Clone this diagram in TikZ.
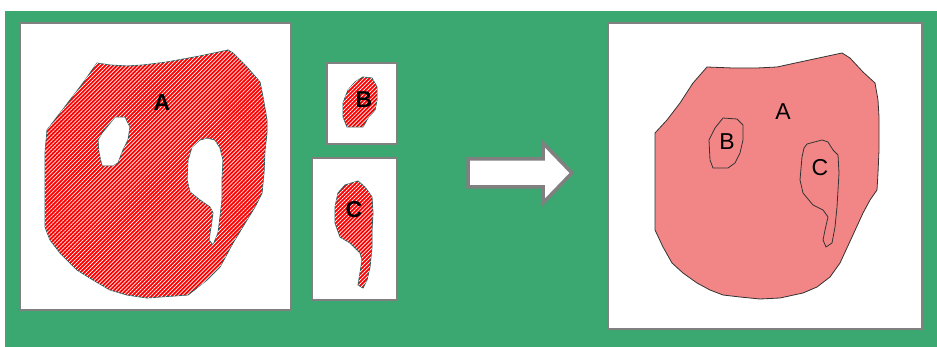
\documentclass[tikz,border=0pt]{standalone}
\usepackage{fontspec}
\setmainfont{Liberation Sans}
\usetikzlibrary{patterns.meta}
\definecolor{bggreen}{RGB}{58,168,112}
\definecolor{boxgray}{RGB}{128,128,128}
\definecolor{pinkfill}{RGB}{242,134,134}
\definecolor{tealedge}{RGB}{40,90,90}
\tikzset{
  panel/.style={draw=boxgray, line width=2.5pt, fill=white},
  stripefill/.style={fill=red, postaction={pattern={Lines[angle=45,distance=2.8pt,line width=0.7pt]}, pattern color=white}},
  leftedge/.style={draw=tealedge, line width=0.8pt},
  rightedge/.style={draw=black!80, line width=0.8pt, fill=pinkfill},
  lbl/.style={font=\fontsize{23}{23}\selectfont, inner sep=0pt},
  lblb/.style={font=\fontsize{23}{23}\selectfont\bfseries, inner sep=0pt},
}
\begin{document}
\begin{tikzpicture}[x=1pt,y=-1pt]
\useasboundingbox (0,0) rectangle (937,347);
\fill[white] (0,0) rectangle (937,347);
\fill[bggreen] (5,11) rectangle (937,347);
% panels
\draw[panel] (20,23) rectangle (291,310);
\draw[panel] (327,63) rectangle (397,144);
\draw[panel] (312,158) rectangle (397,300);
\draw[panel] (608,23) rectangle (922,329);
% left A with holes
\path[stripefill, leftedge, even odd rule]
 (97,63) -- (110,65) -- (127,66) -- (143,65) -- (167,62) -- (200,56) -- (228,50) -- (233,53) -- (247,67) -- (260,82) -- (263,97) -- (267,120) -- (267,133) -- (265,150) -- (264,173) -- (262,193) -- (255,207) -- (247,220) -- (233,243) -- (220,267) -- (207,280) -- (188,295) -- (160,297) -- (147,298) -- (127,295) -- (110,290) -- (93,280) -- (77,270) -- (60,253) -- (50,240) -- (45,227) -- (45,200) -- (45,153) -- (47,130) -- (57,117) -- (70,100) -- (83,83) -- cycle
 (115,117) -- (125,117) -- (130,127) -- (128,140) -- (123,150) -- (118,163) -- (113,166) -- (102,166) -- (99,153) -- (98,140) -- (102,133) -- (107,127) -- cycle
 (207,138) -- (215,140) -- (220,148) -- (223,160) -- (222,180) -- (222,200) -- (220,217) -- (218,233) -- (213,245) -- (209,240) -- (211,227) -- (213,213) -- (210,207) -- (200,200) -- (190,192) -- (187,180) -- (188,160) -- (192,147) -- (200,140) -- cycle;
\node[lblb] (la) at (162,103) {A};
% B piece
\path[stripefill, leftedge]
 (355,82) -- (363,77) -- (372,78) -- (377,87) -- (377,100) -- (375,110) -- (368,118) -- (363,127) -- (353,127) -- (347,127) -- (343,117) -- (343,103) -- (348,90) -- cycle;
\node[lblb] (lb) at (364,100) {B};
% C piece
\path[stripefill, leftedge]
 (345,185) -- (358,181) -- (365,187) -- (372,197) -- (373,213) -- (372,230) -- (372,247) -- (370,267) -- (367,280) -- (363,288) -- (358,285) -- (360,273) -- (362,260) -- (360,253) -- (350,243) -- (340,237) -- (335,223) -- (335,207) -- (338,193) -- cycle;
\node[lblb] (lc) at (354,210) {C};
% arrow
\draw[draw=boxgray, line width=3.5pt, fill=white, line join=miter]
 (468,159) -- (543,159) -- (543,143) -- (572,173) -- (543,203) -- (543,187) -- (468,187) -- cycle;
% right A
\path[rightedge]
 (707,67) -- (733,68) -- (757,68) -- (777,67) -- (800,62) -- (842,53) -- (850,58) -- (863,72) -- (875,83) -- (878,100) -- (879,117) -- (879,150) -- (878,173) -- (877,190) -- (870,200) -- (863,213) -- (852,237) -- (840,263) -- (830,277) -- (817,287) -- (803,293) -- (780,298) -- (760,299) -- (740,297) -- (723,295) -- (710,290) -- (697,283) -- (683,273) -- (672,263) -- (663,247) -- (655,230) -- (655,200) -- (655,167) -- (655,133) -- (667,120) -- (680,103) -- (693,83) -- cycle;
\path[draw=black!80, line width=0.8pt]
 (723,118) -- (737,119) -- (743,125) -- (743,140) -- (740,153) -- (735,163) -- (728,168) -- (713,168) -- (710,160) -- (709,140) -- (715,128) -- cycle;
\path[draw=black!80, line width=0.8pt]
 (807,144) -- (822,140) -- (828,142) -- (833,150) -- (838,155) -- (839,173) -- (838,190) -- (837,207) -- (835,227) -- (832,243) -- (826,247) -- (823,240) -- (825,230) -- (828,217) -- (823,210) -- (813,205) -- (803,193) -- (800,180) -- (802,157) -- (804,148) -- cycle;
\node[lbl] (ra) at (783,112) {A};
\node[lbl] (rb) at (727,142) {B};
\node[lbl] (rc) at (820,168) {C};
\end{tikzpicture}
\end{document}
